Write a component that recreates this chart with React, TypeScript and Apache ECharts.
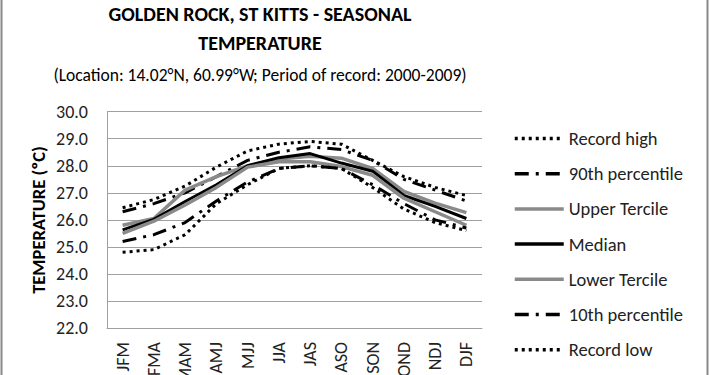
import React, { useEffect, useRef } from "react";
import * as echarts from "echarts";

const categories = ["JFM", "FMA", "MAM", "AMJ", "MJJ", "JJA", "JAS", "ASO", "SON", "OND", "NDJ", "DJF"];
const recordHigh = [26.45, 26.75, 27.25, 27.95, 28.55, 28.8, 28.9, 28.8, 28.2, 27.6, 27.2, 26.9];
const p90 = [26.3, 26.6, 27.0, 27.6, 28.2, 28.5, 28.7, 28.6, 28.2, 27.5, 27.1, 26.7];
const upperTercile = [25.8, 26.05, 27.1, 27.6, 28.0, 28.25, 28.35, 28.28, 27.9, 27.05, 26.62, 26.27];
const median = [25.63, 26.02, 26.68, 27.3, 28.0, 28.3, 28.45, 28.1, 27.8, 26.9, 26.5, 26.05];
const lowerTercile = [25.5, 25.95, 26.55, 27.2, 27.95, 28.15, 28.15, 27.97, 27.65, 26.8, 26.3, 25.8];
const p10 = [25.2, 25.45, 25.9, 26.7, 27.4, 27.9, 28.0, 27.9, 27.3, 26.6, 26.0, 25.7];
const recordLow = [24.8, 24.9, 25.45, 26.6, 27.3, 27.9, 28.0, 27.9, 27.2, 26.4, 25.9, 25.6];

const FONT = "Carlito, Lato, sans-serif";
const GREY = "#8a8a8a";

export default function App() {
  const ref = useRef<HTMLDivElement>(null);
  useEffect(() => {
    document.body.style.margin = "0";
    const chart = echarts.init(ref.current!, null, { renderer: "svg" });
    const dotted = { color: "#000", width: 3, type: [3, 4], cap: "butt" as const };
    const dashDot = { color: "#000", width: 3, type: [14, 7, 3, 7], cap: "butt" as const };
    const mk = (name: string, data: number[], lineStyle: any) => ({
      name,
      type: "line",
      data,
      symbol: "none",
      lineStyle,
      itemStyle: { color: lineStyle.color },
    });
    chart.setOption({
      animation: false,
      title: [
        {
          text: "GOLDEN ROCK, ST KITTS - SEASONAL\nTEMPERATURE",
          left: 260,
          top: -1,
          padding: 0,
          textAlign: "center",
          textStyle: { fontFamily: FONT, fontSize: 20, fontWeight: "bold", color: "#000", lineHeight: 29 },
        },
        {
          text: "(Location: 14.02°N, 60.99°W; Period of record: 2000-2009)",
          left: 260,
          top: 65,
          padding: 0,
          textAlign: "center",
          textStyle: { fontFamily: FONT, fontSize: 17.5, fontWeight: "normal", color: "#000", lineHeight: 20 },
        },
      ],
      legend: {
        orient: "vertical",
        left: 513,
        top: 129,
        itemWidth: 49,
        itemHeight: 14,
        itemGap: 16.2,
        padding: 0,
        itemStyle: { opacity: 0 },
        lineStyle: { width: 3.5 },
        textStyle: { fontFamily: FONT, fontSize: 18.5, color: "#222" },
        data: ["Record high", "90th percentile", "Upper Tercile", "Median", "Lower Tercile", "10th percentile", "Record low"],
      },
      grid: { left: 107, right: 228, top: 111.7, bottom: 47, containLabel: false, outerBoundsMode: "none" },
      xAxis: {
        type: "category",
        data: categories,
        boundaryGap: true,
        axisLine: { lineStyle: { color: "#a0a0a0", width: 1 } },
        axisTick: { show: false },
        axisLabel: { rotate: 90, margin: 14, fontFamily: FONT, fontSize: 18, color: "#222", interval: 0 },
      },
      yAxis: {
        type: "value",
        min: 22,
        max: 30,
        interval: 1,
        axisLine: { show: true, lineStyle: { color: "#a0a0a0" } },
        axisTick: { show: false },
        splitLine: { lineStyle: { color: "#a0a0a0", width: 1 } },
        axisLabel: { margin: 19, fontFamily: FONT, fontSize: 18, color: "#222", formatter: (v: number) => v.toFixed(1) },
      },
      graphic: [
        {
          type: "text",
          x: 38,
          y: 220,
          rotation: Math.PI / 2,
          style: { text: "TEMPERATURE (ºC)", fontFamily: FONT, fontSize: 18.5, fontWeight: "bold", fill: "#000", align: "center", verticalAlign: "middle" },
        },
        { type: "line", shape: { x1: 1.5, y1: 0, x2: 1.5, y2: 375 }, style: { stroke: "#888", lineWidth: 2 } },
        { type: "line", shape: { x1: 707.5, y1: 0, x2: 707.5, y2: 375 }, style: { stroke: "#888", lineWidth: 2 } },
      ],
      series: [
        mk("Record high", recordHigh, dotted),
        mk("90th percentile", p90, dashDot),
        mk("Upper Tercile", upperTercile, { color: GREY, width: 3.5, type: "solid" }),
        mk("Median", median, { color: "#000", width: 3, type: "solid" }),
        mk("Lower Tercile", lowerTercile, { color: GREY, width: 3.5, type: "solid" }),
        mk("10th percentile", p10, dashDot),
        mk("Record low", recordLow, dotted),
      ],
    });
    return () => chart.dispose();
  }, []);
  return <div ref={ref} style={{ width: 710, height: 375 }} />;
}
